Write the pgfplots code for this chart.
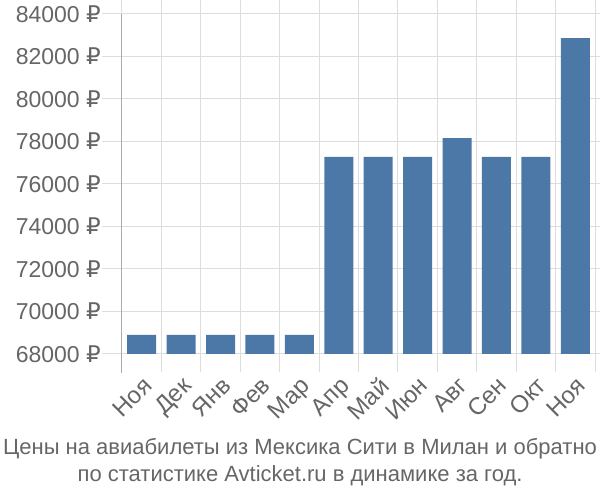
\documentclass[border=0pt]{standalone}
\usepackage{pgfplots}
\pgfplotsset{compat=1.18}
\usepackage{fontspec}
\setmainfont{Liberation Sans}
\newfontfamily\rub{DejaVu Sans}
\newcommand{\R}{{\rub ₽}}
\definecolor{txt}{HTML}{666666}
\definecolor{gridc}{HTML}{DDDDDD}
\definecolor{barc}{HTML}{4C78A8}
\definecolor{axc}{HTML}{AAAAAA}
\begin{document}
\begin{tikzpicture}[x=1pt,y=1pt]
\useasboundingbox (-122pt,-146pt) rectangle (478pt,354pt);
\begin{axis}[
  at={(0,0)}, anchor=south west,
  scale only axis, width=473pt, height=340pt,
  xmin=-0.5, xmax=11.5, ymin=68000, ymax=84000,
  axis line style={draw=none},
  scaled y ticks=false,
  ybar, bar width=29pt,
  xtick={0,...,11},
  xticklabels={Ноя,Дек,Янв,Фев,Мар,Апр,Май,Июн,Авг,Сен,Окт,Ноя},
  minor xtick={-0.5,0.5,...,11.5},
  xminorgrids=true, xmajorgrids=false,
  minor grid style={gridc, line width=1pt},
  major grid style={gridc, line width=1pt},
  ymajorgrids=true,
  ytick={68000,70000,...,84000},
  yticklabels={68000 \R,70000 \R,72000 \R,74000 \R,76000 \R,78000 \R,80000 \R,82000 \R,84000 \R},
  tick align=outside,
  major x tick style={draw=none},
  minor x tick style={gridc, line width=1pt},
  minor tick length=18pt,
  major y tick style={gridc, line width=1pt},
  major tick length=20pt,
  yticklabel style={font=\fontsize{23}{27}\selectfont, text=txt, inner sep=1pt},
  xticklabel style={font=\fontsize{24}{28}\selectfont, text=txt, rotate=45, anchor=north east, inner sep=1pt},
  clip=true,
]
\addplot[fill=barc, draw=none] coordinates {
(0,68894) (1,68894) (2,68894) (3,68894) (4,68894) (5,77280) (6,77280) (7,77280) (8,78160) (9,77280) (10,77280) (11,82866)};
\end{axis}
\draw[axc, line width=1pt] (0,340pt) -- (0,-19pt);
\node[align=center, text=txt, font=\fontsize{22}{27}\selectfont] at (178pt,-108pt) {Цены на авиабилеты из Мексика Сити в Милан и обратно\\по статистике Avticket.ru в динамике за год.};
\end{tikzpicture}
\end{document}
